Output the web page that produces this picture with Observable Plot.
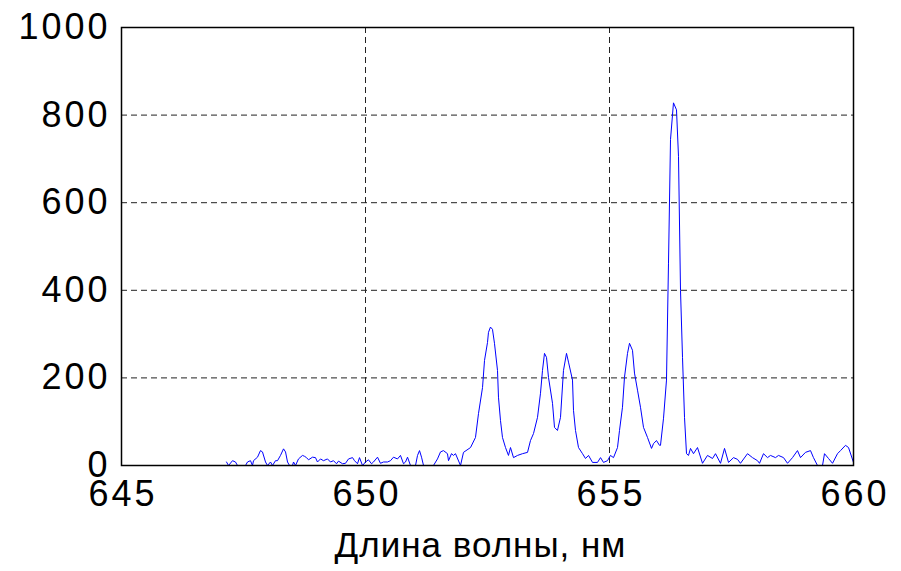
<!DOCTYPE html>
<html>
<head>
<meta charset="utf-8">
<script src="https://cdn.jsdelivr.net/npm/d3@7"></script>
<script src="https://cdn.jsdelivr.net/npm/@observablehq/plot@0.6"></script>
<style>
  html, body { margin: 0; padding: 0; background: #fff; }
  .ticklbl text { letter-spacing: 3px; }
  .xlabel text { letter-spacing: 1px; }
</style>
</head>
<body>
<div id="chart"></div>
<script>
// Wavelength (nm) and intensity
const wavelength = [
  647.152,647.193,647.275,647.336,647.377,647.541,647.582,647.643,647.684,647.705,
  647.787,647.848,647.889,647.951,647.992,648.053,648.094,648.156,648.197,648.258,
  648.320,648.361,648.402,648.443,648.504,648.525,648.566,648.627,648.709,648.750,
  648.791,648.832,648.914,648.975,649.016,649.078,649.139,649.221,649.283,649.344,
  649.406,649.447,649.529,649.590,649.652,649.734,649.775,649.836,649.877,649.939,
  650.000,650.061,650.123,650.164,650.246,650.307,650.369,650.451,650.512,650.574,
  650.656,650.717,650.779,650.820,650.861,650.922,651.025,651.066,651.107,651.148,
  651.189,651.270,651.332,651.393,651.475,651.537,651.598,651.680,651.701,651.762,
  651.803,651.844,651.947,652.008,652.152,652.254,652.316,652.398,652.439,652.500,
  652.520,652.561,652.602,652.643,652.705,652.725,652.766,652.807,652.869,652.930,
  652.971,653.033,653.115,653.217,653.320,653.381,653.443,653.525,653.586,653.627,
  653.668,653.709,653.750,653.832,653.873,653.934,653.996,654.057,654.119,654.160,
  654.242,654.262,654.303,654.365,654.447,654.508,654.570,654.652,654.754,654.816,
  654.877,654.959,655.020,655.082,655.164,655.205,655.266,655.307,655.369,655.410,
  655.471,655.512,655.574,655.635,655.697,655.779,655.861,655.902,655.963,656.025,
  656.045,656.107,656.168,656.209,656.250,656.311,656.373,656.414,656.455,656.496,
  656.537,656.578,656.619,656.660,656.721,656.803,656.906,657.008,657.111,657.172,
  657.275,657.357,657.439,657.541,657.623,657.684,657.828,657.930,658.033,658.074,
  658.156,658.238,658.299,658.402,658.463,658.566,658.648,658.750,658.852,658.914,
  659.016,659.119,659.180,659.262,659.365,659.406,659.488,659.570,659.672,659.734,
  659.836,659.898,660.000
];
const intensity = [
  8,0,11,8,0,0,8,11,0,11,
  19,34,31,8,0,8,0,11,11,23,
  38,31,8,0,0,8,0,15,23,21,
  18,13,19,18,8,15,11,15,8,11,
  4,10,4,5,15,18,11,4,18,0,
  8,13,4,8,19,5,8,8,11,19,
  15,23,4,8,19,0,0,23,34,19,
  0,0,0,0,15,31,34,27,11,27,
  23,27,0,30,41,64,119,178,240,281,
  304,316,311,279,217,156,103,64,41,23,
  41,18,23,27,30,57,73,110,165,217,
  256,247,201,142,87,80,110,217,256,236,
  195,126,80,41,27,16,23,7,7,18,
  7,11,23,18,41,80,133,201,256,279,
  263,211,172,133,87,64,39,50,57,46,
  46,108,195,462,744,828,812,705,400,247,
  110,27,23,39,27,41,5,23,16,27,
  5,39,7,18,14,5,27,18,11,5,
  27,18,23,18,23,18,5,18,34,18,
  30,34,18,0,0,27,16,5,27,34,
  46,41,7
];
const xTicks = [645, 650, 655, 660];
const yTicks = [0, 200, 400, 600, 800, 1000];
const xGrid = [650, 655];
const yGrid = [200, 400, 600, 800];
const xLabel = "Длина волны, нм";

const data = wavelength.map((w, i) => ({w, v: intensity[i]}));

const font = "'Liberation Sans', Arial, Helvetica, sans-serif";

const chart = Plot.plot({
  width: 901,
  height: 571,
  marginLeft: 121,
  marginRight: 48,
  marginTop: 27,
  marginBottom: 106,
  style: {fontFamily: font, background: "#fff", color: "#000"},
  x: {domain: [645, 660], label: null},
  y: {domain: [0, 1000], label: null},
  marks: [
    Plot.ruleX(xGrid, {stroke: "#222", strokeWidth: 1, strokeDasharray: "6,4"}),
    Plot.ruleY(yGrid, {stroke: "#222", strokeWidth: 1, strokeDasharray: "6,4"}),
    Plot.line(data, {x: "w", y: "v", stroke: "#0000ff", strokeWidth: 1}),
    Plot.frame({stroke: "#000", strokeWidth: 1.5}),
    Plot.axisX({ticks: xTicks, tickSize: 0, tickPadding: 15, fontSize: 36, label: null, dx: 1.5, className: "ticklbl", tickFormat: d => String(d)}),
    Plot.axisY({ticks: yTicks, tickSize: 0, tickPadding: 11, fontSize: 36, label: null, className: "ticklbl", tickFormat: d => String(d)}),
    Plot.text([xLabel], {frameAnchor: "bottom", dy: 91, dx: -7, fontSize: 35, fill: "#000", className: "xlabel"})
  ]
});
document.getElementById("chart").appendChild(chart);
</script>
</body>
</html>
